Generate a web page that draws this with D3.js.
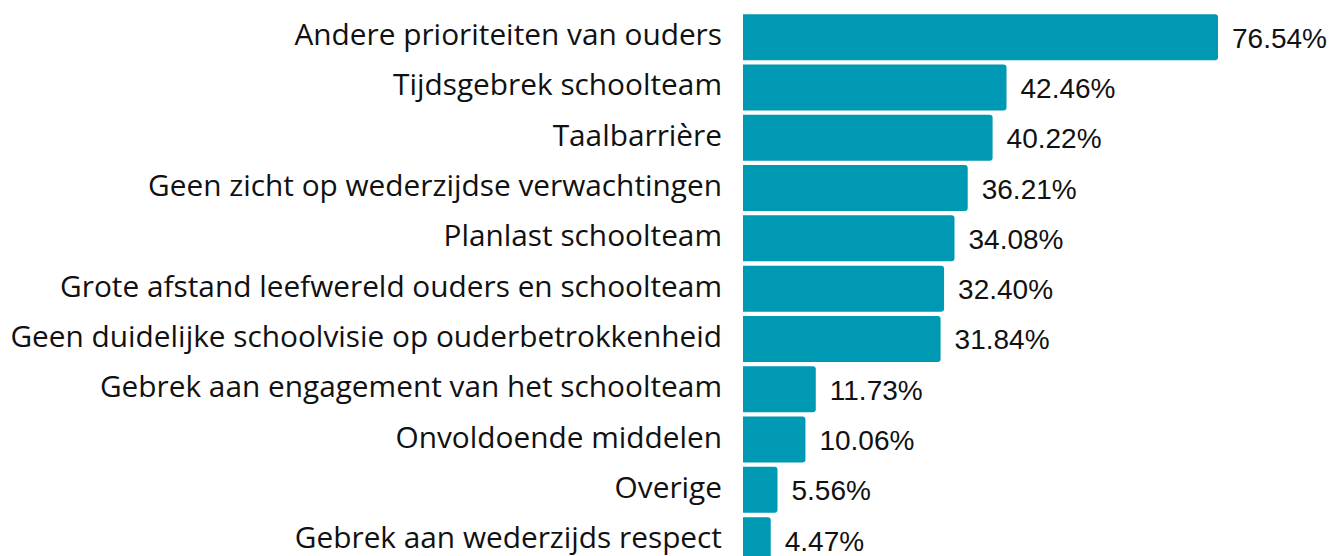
<!DOCTYPE html>
<html>
<head>
<meta charset="utf-8">
<script src="https://cdn.jsdelivr.net/npm/d3@7"></script>
<style>
  body { margin: 0; background: #fff; }
  svg text { fill: #111; }
  .cat { font-family: "Open Sans", "Noto Sans", sans-serif; }
  .val { font-family: "Liberation Sans", Arial, sans-serif; }
</style>
</head>
<body>
<div id="chart"></div>
<script>
// categories and values (percent)
const categories = [
    "Andere prioriteiten van ouders",
    "Tijdsgebrek schoolteam",
    "Taalbarrière",
    "Geen zicht op wederzijdse verwachtingen",
    "Planlast schoolteam",
    "Grote afstand leefwereld ouders en schoolteam",
    "Geen duidelijke schoolvisie op ouderbetrokkenheid",
    "Gebrek aan engagement van het schoolteam",
    "Onvoldoende middelen",
    "Overige",
    "Gebrek aan wederzijds respect"
];
const values = [76.54, 42.46, 40.22, 36.21, 34.08, 32.40, 31.84, 11.73, 10.06, 5.56, 4.47];
const valueLabels = ["76.54%", "42.46%", "40.22%", "36.21%", "34.08%", "32.40%", "31.84%", "11.73%", "10.06%", "5.56%", "4.47%"];

const width = 1334, height = 556;
const barLeft = 743;

const svg = d3.select("#chart").append("svg")
    .attr("width", width)
    .attr("height", height);

const x = d3.scaleLinear()
    .domain([0, 76.54])
    .range([barLeft, 1218]);

const y = d3.scaleBand()
    .domain(categories)
    .range([12, 12 + 11 * 50.3])
    .paddingInner(0.085)
    .paddingOuter(0.0425);

const data = categories.map((c, i) => ({cat: c, val: values[i], lab: valueLabels[i]}));

// bars, rounded on the right side only
const r = 3;
svg.selectAll("path.bar")
    .data(data)
    .enter()
    .append("path")
    .attr("class", "bar")
    .attr("fill", "#0099b4")
    .attr("d", d => {
        const x0 = x(0), x1 = x(d.val), y0 = y(d.cat), h = y.bandwidth();
        return `M${x0},${y0}H${x1 - r}Q${x1},${y0} ${x1},${y0 + r}V${y0 + h - r}Q${x1},${y0 + h} ${x1 - r},${y0 + h}H${x0}Z`;
    });

// category labels
svg.selectAll("text.cat")
    .data(data)
    .enter()
    .append("text")
    .attr("class", "cat")
    .attr("x", 722)
    .attr("y", d => y(d.cat) + y.bandwidth() / 2 + 8)
    .attr("text-anchor", "end")
    .style("font-size", "29.8px")
    .text(d => d.cat);

// value labels
svg.selectAll("text.val")
    .data(data)
    .enter()
    .append("text")
    .attr("class", "val")
    .attr("x", d => x(d.val) + 14)
    .attr("y", d => y(d.cat) + y.bandwidth() / 2 + 10.5)
    .attr("text-anchor", "start")
    .style("font-size", "28px")
    .text(d => d.lab);
</script>
</body>
</html>
